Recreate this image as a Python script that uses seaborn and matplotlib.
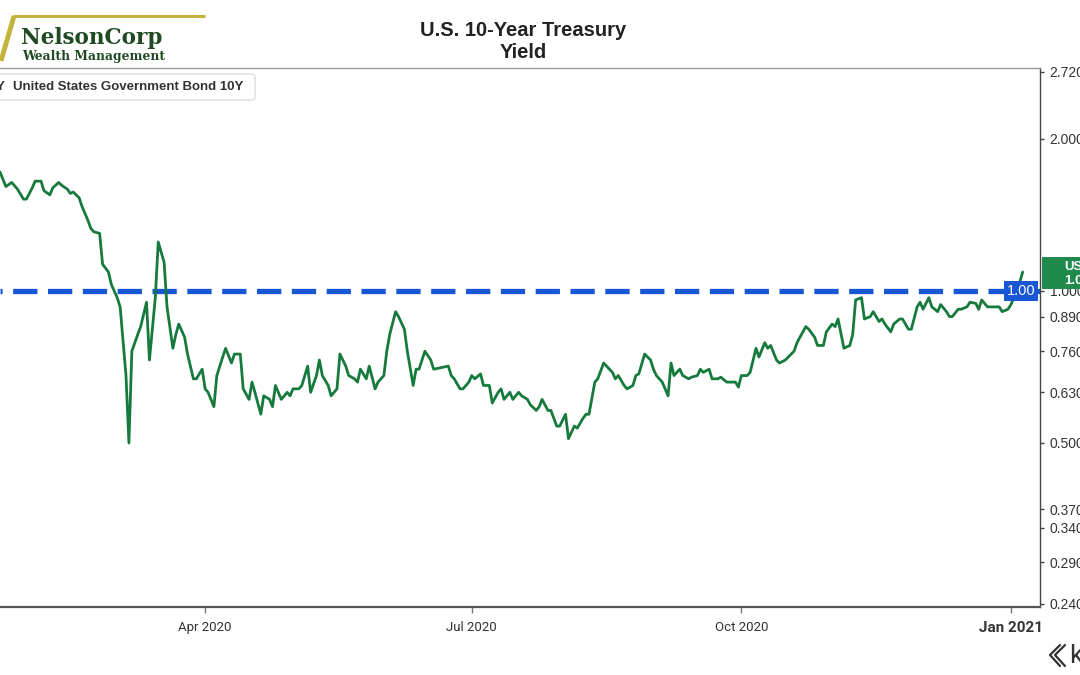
import matplotlib
matplotlib.use("Agg")
import matplotlib.pyplot as plt
import matplotlib.transforms as mtrans
from matplotlib.patches import Rectangle, FancyBboxPatch
from matplotlib.lines import Line2D
from matplotlib.ticker import NullLocator
import seaborn as sns
import pandas as pd

# values (US 10Y yield, %)
dates = [
    "2020-01-22", "2020-01-24", "2020-01-26", "2020-01-28", "2020-01-30", "2020-01-31",
    "2020-02-02", "2020-02-03", "2020-02-05", "2020-02-06", "2020-02-08", "2020-02-09",
    "2020-02-11", "2020-02-12", "2020-02-14", "2020-02-15", "2020-02-16", "2020-02-18",
    "2020-02-19", "2020-02-21", "2020-02-22", "2020-02-23", "2020-02-25", "2020-02-26",
    "2020-02-28", "2020-02-29",
    "2020-03-02", "2020-03-03", "2020-03-05", "2020-03-06", "2020-03-07", "2020-03-09",
    "2020-03-10", "2020-03-12", "2020-03-13", "2020-03-15", "2020-03-16", "2020-03-18",
    "2020-03-19", "2020-03-21", "2020-03-22", "2020-03-23", "2020-03-25", "2020-03-26",
    "2020-03-28", "2020-03-29", "2020-03-31",
    "2020-04-01", "2020-04-02", "2020-04-04", "2020-04-05", "2020-04-07", "2020-04-08",
    "2020-04-10", "2020-04-11", "2020-04-13", "2020-04-14", "2020-04-16", "2020-04-17",
    "2020-04-18", "2020-04-20", "2020-04-21", "2020-04-23", "2020-04-24", "2020-04-25",
    "2020-04-27", "2020-04-29", "2020-04-30",
    "2020-05-01", "2020-05-03", "2020-05-04", "2020-05-06", "2020-05-07", "2020-05-09",
    "2020-05-10", "2020-05-11", "2020-05-13", "2020-05-14", "2020-05-16", "2020-05-17",
    "2020-05-19", "2020-05-20", "2020-05-22", "2020-05-23", "2020-05-24", "2020-05-26",
    "2020-05-27", "2020-05-29", "2020-05-30",
    "2020-06-01", "2020-06-02", "2020-06-03", "2020-06-05", "2020-06-06", "2020-06-08",
    "2020-06-09", "2020-06-11", "2020-06-12", "2020-06-13", "2020-06-15", "2020-06-17",
    "2020-06-18", "2020-06-23", "2020-06-24", "2020-06-25", "2020-06-27", "2020-06-28",
    "2020-06-30",
    "2020-07-01", "2020-07-02", "2020-07-04", "2020-07-05", "2020-07-07", "2020-07-08",
    "2020-07-10", "2020-07-11", "2020-07-12", "2020-07-14", "2020-07-15", "2020-07-17",
    "2020-07-18", "2020-07-20", "2020-07-21", "2020-07-23", "2020-07-24", "2020-07-25",
    "2020-07-27", "2020-07-28", "2020-07-30", "2020-07-31",
    "2020-08-02", "2020-08-03", "2020-08-05", "2020-08-06", "2020-08-08", "2020-08-09",
    "2020-08-10", "2020-08-12", "2020-08-13", "2020-08-15", "2020-08-16", "2020-08-18",
    "2020-08-19", "2020-08-20", "2020-08-22", "2020-08-23", "2020-08-25", "2020-08-26",
    "2020-08-27", "2020-08-29", "2020-08-31",
    "2020-09-01", "2020-09-02", "2020-09-04", "2020-09-06", "2020-09-07", "2020-09-08",
    "2020-09-10", "2020-09-11", "2020-09-13", "2020-09-14", "2020-09-16", "2020-09-17",
    "2020-09-18", "2020-09-20", "2020-09-21", "2020-09-23", "2020-09-24", "2020-09-26",
    "2020-09-27", "2020-09-29", "2020-09-30",
    "2020-10-01", "2020-10-03", "2020-10-04", "2020-10-06", "2020-10-07", "2020-10-09",
    "2020-10-10", "2020-10-11", "2020-10-13", "2020-10-14", "2020-10-16", "2020-10-17",
    "2020-10-19", "2020-10-20", "2020-10-21", "2020-10-23", "2020-10-24", "2020-10-26",
    "2020-10-27", "2020-10-29", "2020-10-30",
    "2020-11-01", "2020-11-02", "2020-11-03", "2020-11-05", "2020-11-07", "2020-11-08",
    "2020-11-09", "2020-11-11", "2020-11-12", "2020-11-14", "2020-11-15", "2020-11-17",
    "2020-11-18", "2020-11-19", "2020-11-21", "2020-11-22", "2020-11-24", "2020-11-25",
    "2020-11-27", "2020-11-28", "2020-11-30",
    "2020-12-01", "2020-12-02", "2020-12-04", "2020-12-05", "2020-12-07", "2020-12-08",
    "2020-12-10", "2020-12-11", "2020-12-12", "2020-12-14", "2020-12-15", "2020-12-17",
    "2020-12-18", "2020-12-20", "2020-12-21", "2020-12-22", "2020-12-24", "2020-12-25",
    "2020-12-27", "2020-12-28", "2020-12-29", "2020-12-31",
    "2021-01-01", "2021-01-02", "2021-01-04", "2021-01-05",
]
yields = [
    1.72, 1.61, 1.64, 1.59, 1.52, 1.52,
    1.60, 1.65, 1.65, 1.58, 1.55, 1.60,
    1.64, 1.62, 1.59, 1.56, 1.57, 1.53,
    1.47, 1.38, 1.33, 1.31, 1.30, 1.13,
    1.09, 1.03,
    0.97, 0.93, 0.68, 0.50, 0.76, 0.82,
    0.85, 0.95, 0.73, 0.97, 1.25, 1.14,
    0.93, 0.77, 0.82, 0.86, 0.81, 0.75,
    0.67, 0.67, 0.70,
    0.64, 0.63, 0.59, 0.68, 0.74, 0.77,
    0.72, 0.75, 0.75, 0.64, 0.61, 0.66,
    0.63, 0.57, 0.62, 0.61, 0.59, 0.65,
    0.61, 0.63, 0.62,
    0.64, 0.64, 0.65, 0.71, 0.63, 0.68,
    0.73, 0.68, 0.65, 0.62, 0.64, 0.75,
    0.71, 0.68, 0.67, 0.66, 0.70, 0.67,
    0.71, 0.64, 0.66,
    0.68, 0.76, 0.82, 0.91, 0.89, 0.84,
    0.76, 0.65, 0.70, 0.70, 0.76, 0.73,
    0.70, 0.71, 0.68, 0.67, 0.64, 0.64,
    0.66,
    0.68, 0.67, 0.685, 0.65, 0.65, 0.60,
    0.63, 0.64, 0.61, 0.63, 0.61, 0.63,
    0.62, 0.61, 0.595, 0.58, 0.59, 0.61,
    0.58, 0.58, 0.54, 0.54,
    0.57, 0.51, 0.54, 0.535, 0.56, 0.57,
    0.57, 0.66, 0.67, 0.72, 0.71, 0.69,
    0.67, 0.68, 0.65, 0.64, 0.65, 0.68,
    0.685, 0.75, 0.73,
    0.70, 0.68, 0.66, 0.62, 0.72, 0.68,
    0.70, 0.68, 0.67, 0.675, 0.68, 0.70,
    0.69, 0.70, 0.67, 0.67, 0.675, 0.66,
    0.66, 0.66, 0.645,
    0.68, 0.68, 0.69, 0.77, 0.74, 0.79,
    0.77, 0.78, 0.73, 0.72, 0.73, 0.74,
    0.76, 0.79, 0.81, 0.85, 0.84, 0.81,
    0.78, 0.78, 0.83,
    0.86, 0.85, 0.88, 0.77, 0.78, 0.82,
    0.96, 0.97, 0.88, 0.89, 0.91, 0.87,
    0.88, 0.86, 0.83, 0.86, 0.88, 0.88,
    0.84, 0.84, 0.93,
    0.95, 0.92, 0.97, 0.93, 0.91, 0.94,
    0.91, 0.89, 0.89, 0.92, 0.92, 0.93,
    0.95, 0.945, 0.92, 0.96, 0.93, 0.93,
    0.93, 0.93, 0.91, 0.92,
    0.94, 0.97, 1.04, 1.09,
]

ytick_vals = [0.24, 0.29, 0.34, 0.37, 0.50, 0.63, 0.76, 0.89, 1.00, 2.00, 2.72]
xtick_dates = ["2020-04-01", "2020-07-01", "2020-10-01", "2021-01-01"]
xtick_labels = ["Apr 2020", "Jul 2020", "Oct 2020", "Jan 2021"]
ref_level = 1.00
last_label = "1.08"

GREEN = "#177a3d"
BLUE = "#1756d4"

sns.set_theme(style="white")
plt.rcParams["font.family"] = ["Liberation Sans", "DejaVu Sans"]

df = pd.DataFrame({"date": pd.to_datetime(dates), "yield": yields})

W, H = 1080, 675
fig = plt.figure(figsize=(10.8, 6.75), dpi=100)
ax = fig.add_axes([0, 1 - 607 / H, 1040 / W, (607 - 68) / H])

sns.lineplot(data=df, x="date", y="yield", color=GREEN, lw=2.0, ax=ax, zorder=3)
ax.axhline(ref_level, color=BLUE, lw=3.8, linestyle=(4.2, (4.6, 2.0)), zorder=2)

ax.set_yscale("log")
ax.set_ylim(0.2367, 2.764)
ax.set_xlim(pd.Timestamp("2020-01-22"), pd.Timestamp("2021-01-10 22:00"))
ax.set_xlabel("")
ax.set_ylabel("")

ax.yaxis.tick_right()
ax.set_yticks(ytick_vals)
ax.set_yticklabels([f"{v:.3f}" for v in ytick_vals])
ax.yaxis.set_minor_locator(NullLocator())
ax.tick_params(axis="y", which="major", right=True, left=False, direction="out",
               length=3, width=1, color="#444", labelsize=10, labelcolor="#333", pad=4)

ax.set_xticks(pd.to_datetime(xtick_dates))
ax.set_xticklabels(xtick_labels)
ax.xaxis.set_minor_locator(NullLocator())
ax.tick_params(axis="x", bottom=True, direction="out", length=4, width=1, color="#777",
               labelsize=9.5, labelcolor="#333", pad=6)
for lab in ax.get_xticklabels():
    lab.set_family("Roboto")
lab = ax.get_xticklabels()[-1]
lab.set_fontsize(11)
lab.set_fontweight("bold")

ax.spines["left"].set_visible(False)
ax.spines["top"].set_color("#999999")
ax.spines["top"].set_linewidth(1.0)
ax.spines["right"].set_color("#444444")
ax.spines["right"].set_linewidth(1.0)
ax.spines["bottom"].set_color("#555555")
ax.spines["bottom"].set_linewidth(1.6)

# price tag for the reference line
tr = mtrans.blended_transform_factory(ax.transAxes, ax.transData)
ax.annotate("1.00", xy=(1.0, ref_level), xycoords=tr, xytext=(-3.5, 0),
            textcoords="offset points", ha="right", va="center", color="white",
            fontsize=10.5, zorder=5,
            bbox=dict(boxstyle="square,pad=0.2", fc=BLUE, ec="none"))

# last value tag (cut off by the figure edge)
fig.add_artist(Rectangle((1042 / W, 1 - 289 / H), 60 / W, 32 / H,
                         transform=fig.transFigure, fc="#1f8a4c", ec="none", zorder=5))
fig.text(1064 / W, 1 - 267 / H, "US10Y", color="white", fontsize=9.5,
         fontweight="bold", va="center", ha="left", zorder=6)
fig.text(1064 / W, 1 - 281 / H, last_label, color="white", fontsize=9.5,
         fontweight="bold", va="center", ha="left", zorder=6)

# legend chip
fig.add_artist(FancyBboxPatch((-10 / W, 1 - 100 / H), 265 / W, 26 / H,
                              boxstyle="round,pad=0,rounding_size=0.004",
                              transform=fig.transFigure, fc="white", ec="#dddddd",
                              lw=1, zorder=4))
fig.text(5 / W, 1 - 87 / H, "US10Y", ha="right", va="center", fontsize=9.5,
         fontweight="bold", color="#333", zorder=5)
fig.text(13 / W, 1 - 87 / H, "United States Government Bond 10Y", ha="left",
         va="center", fontsize=9.5, fontweight="bold", color="#333", zorder=5)

# title
fig.text(523 / W, 1 - 30 / H, "U.S. 10-Year Treasury", ha="center", va="center",
         fontsize=14.5, fontweight="bold", color="#222")
fig.text(523 / W, 1 - 52 / H, "Yield", ha="center", va="center",
         fontsize=14.5, fontweight="bold", color="#222")

# NelsonCorp logo
gold = "#c4b33c"
fig.add_artist(Line2D([13 / W, 205 / W], [1 - 16 / H, 1 - 16 / H], color=gold,
                      lw=2.2, transform=fig.transFigure, solid_capstyle="butt"))
fig.add_artist(Line2D([14 / W, 1 / W], [1 - 16 / H, 1 - 61 / H], color=gold,
                      lw=3.5, transform=fig.transFigure, solid_capstyle="butt"))
fig.text(21 / W, 1 - 44 / H, "NelsonCorp", family="DejaVu Serif", fontweight="bold",
         fontsize=15.5, color="#1f4a22", va="baseline", ha="left")
fig.text(22 / W, 1 - 60 / H, "Wealth Management", family="DejaVu Serif",
         fontweight="bold", fontsize=8.8, color="#1f4a22", va="baseline", ha="left")

# koyfin mark, bottom right
for pts in ([(1060, 645), (1050, 655), (1060, 666)], [(1065, 645), (1055, 655), (1065, 666)]):
    fig.add_artist(Line2D([p[0] / W for p in pts], [1 - p[1] / H for p in pts],
                          color="#333", lw=1.6, transform=fig.transFigure))
fig.text(1069 / W, 1 - 656 / H, "k", fontsize=19, color="#333", va="center",
         ha="left", family="Roboto")

fig.savefig("out.png", dpi=100)
